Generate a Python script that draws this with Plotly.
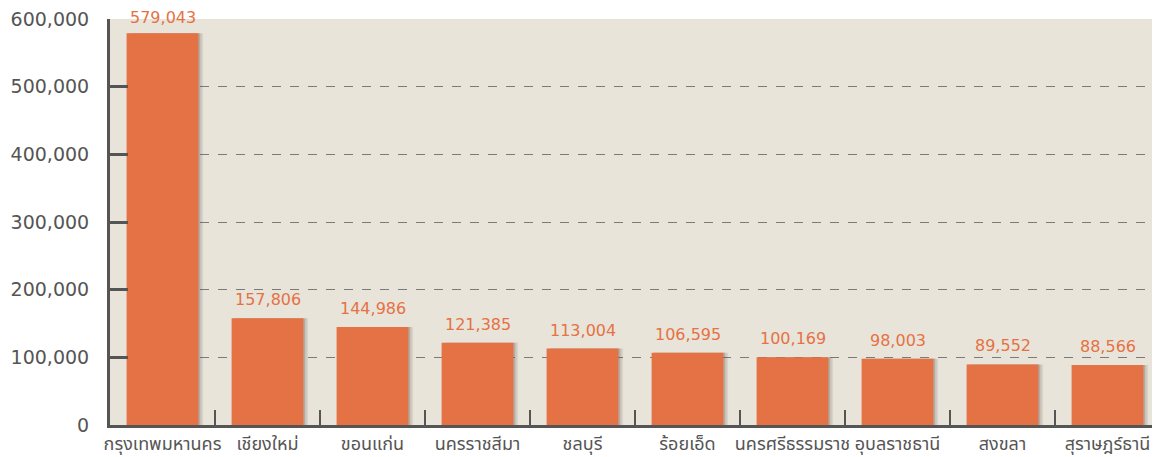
import plotly.graph_objects as go

provinces = ["กรุงเทพมหานคร", "เชียงใหม่", "ขอนแก่น", "นครราชสีมา", "ชลบุรี",
             "ร้อยเอ็ด", "นครศรีธรรมราช", "อุบลราชธานี", "สงขลา", "สุราษฎร์ธานี"]
values = [579043, 157806, 144986, 121385, 113004, 106595, 100169, 98003, 89552, 88566]
y_ticks = [0, 100000, 200000, 300000, 400000, 500000, 600000]
y_tick_labels = ["0", "100,000", "200,000", "300,000", "400,000", "500,000", "600,000"]

BAR_W = 0.684
FONT = "DejaVu Sans, Noto Sans Thai, Noto Sans, sans-serif"
Y_MAX = 600000

fig = go.Figure()
# soft shadow behind bars
for dx, a in [(0.045, 0.10), (0.03, 0.14), (0.015, 0.18)]:
    fig.add_trace(go.Bar(
        x=provinces, y=values, width=BAR_W, offset=-BAR_W / 2 + dx,
        marker=dict(color=f"rgba(90,80,70,{a})", line=dict(width=0)),
        hoverinfo="skip", showlegend=False,
    ))
fig.add_trace(go.Bar(
    x=provinces, y=values, width=BAR_W, offset=-BAR_W / 2,
    marker=dict(color="#E57244", line=dict(width=0)),
    cliponaxis=False, showlegend=False,
))
for p, v in zip(provinces, values):
    fig.add_annotation(
        x=p, y=v, text=f"{v:,}", showarrow=False, yanchor="bottom",
        yshift=4 if v > 0.9 * Y_MAX else 7,
        font=dict(color="#E57244", size=16, family=FONT),
    )

fig.update_layout(
    width=1152, height=449,
    margin=dict(l=102, r=0, t=11, b=32, autoexpand=False),
    paper_bgcolor="white", plot_bgcolor="#E8E4DA",
    barmode="overlay",
    font=dict(family=FONT, color="#555555"),
)
fig.update_xaxes(
    type="category", range=[-0.5, 9.5], automargin=False,
    showline=True, linecolor="#555555", linewidth=3,
    ticks="inside", tickson="boundaries", ticklen=15, tickwidth=2, tickcolor="#555555",
    tickangle=0,
    tickfont=dict(size=18, color="#555555", family=FONT),
    showgrid=False, zeroline=False,
)
fig.update_yaxes(
    range=[0, Y_MAX], tickvals=y_ticks, ticktext=y_tick_labels, automargin=False,
    showline=True, linecolor="#555555", linewidth=3,
    ticks="inside", ticklen=18, tickwidth=3, tickcolor="#555555",
    ticklabelstandoff=14, ticklabeloverflow="allow",
    tickfont=dict(size=19, color="#555555", family=FONT),
    showgrid=True, gridcolor="#7a7a7a", griddash="dash", gridwidth=1,
    zeroline=False,
)
fig.write_html("out.html")
